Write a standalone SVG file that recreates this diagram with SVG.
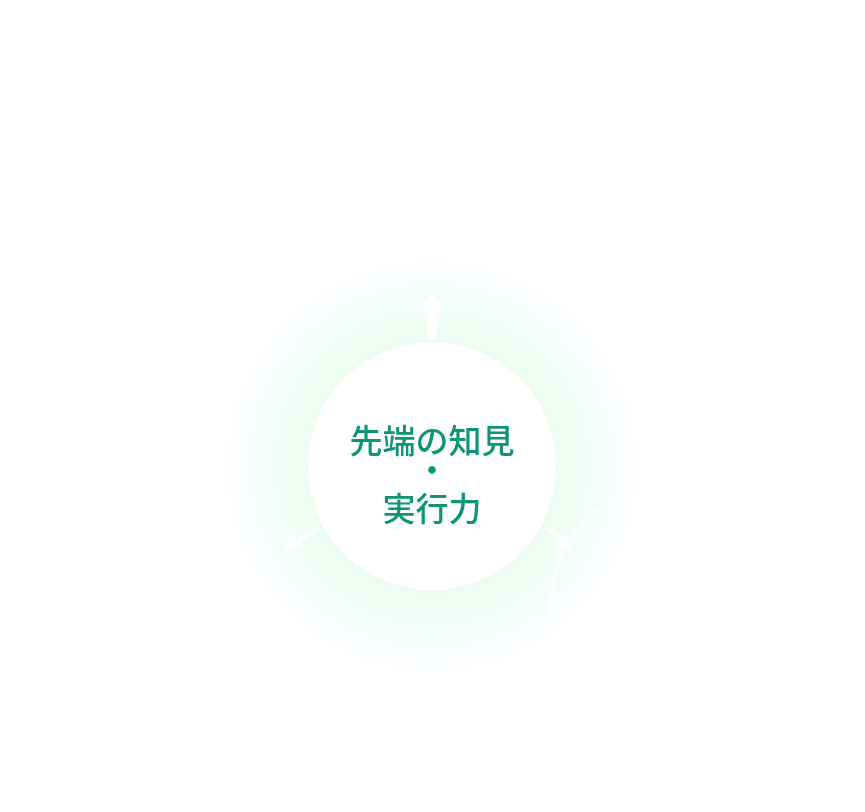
<svg xmlns="http://www.w3.org/2000/svg" width="865" height="812" viewBox="0 0 865 812">
<style>
.t{font-family:"Noto Sans CJK JP","Noto Sans",sans-serif;font-weight:500;font-size:33px;fill:#0c9676;text-anchor:middle}
.ar{fill:#ffffff}
.ln{fill:none;stroke:#ffffff;stroke-width:4}
</style>
<defs>
<radialGradient id="g" cx="432" cy="466" r="215" gradientUnits="userSpaceOnUse">
<stop offset="0.55" stop-color="#ebfcf2"/>
<stop offset="0.78" stop-color="#f5fdf8"/>
<stop offset="1" stop-color="#ffffff"/>
</radialGradient>
</defs>
<rect width="865" height="812" fill="#fff"/>
<circle cx="432" cy="466" r="215" fill="url(#g)"/>
<g id="connectors" opacity="0.85">
<path class="ar" d="M427 340 L427 313 L420 313 L432 296 L444 313 L437 313 L437 340 Z"/>
<path class="ar" d="M320 530 L300 542 L304 548 L284 550 L293 533 L296 538 L316 526 Z"/>
<path class="ar" d="M545 530 L560 540 L556 546 L572 550 L566 534 L563 538 L549 528 Z"/>
<path class="ln" d="M550 620 Q552 560 570 540 Q582 522 600 508" opacity="0.7"/>
</g>
<g id="center">
<circle cx="432" cy="466" r="124" fill="#ffffff"/>
<text class="t" x="432" y="453">先端の知見</text>
<text class="t" x="432" y="482">・</text>
<text class="t" x="432" y="521">実行力</text>
</g>
</svg>
